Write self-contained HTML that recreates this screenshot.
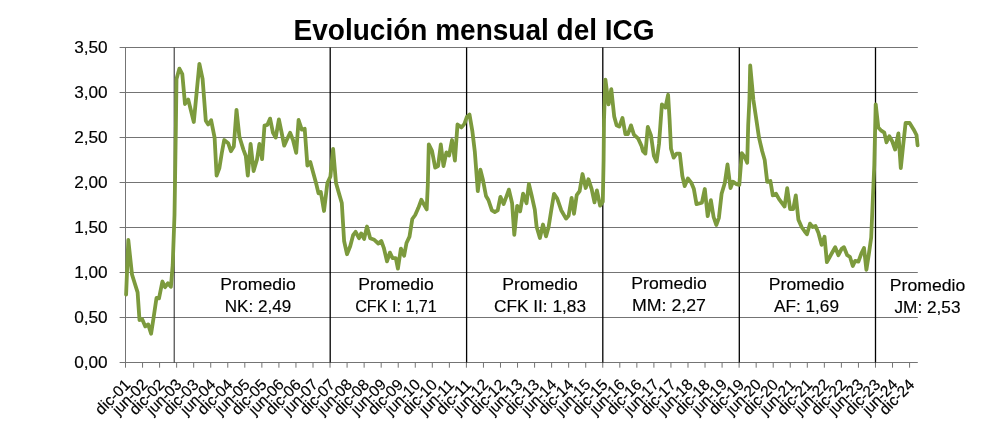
<!DOCTYPE html>
<html><head><meta charset="utf-8"><title>ICG</title>
<style>
html,body{margin:0;padding:0;background:#fff;}
body{width:1000px;height:438px;overflow:hidden;font-family:"Liberation Sans",sans-serif;}
svg{display:block;will-change:transform;opacity:0.9999;}
text{font-family:"Liberation Sans",sans-serif;fill:#000;}
</style></head><body>
<svg width="1000" height="438" viewBox="0 0 1000 438">
<rect width="1000" height="438" fill="#fff"/>

<g stroke="#747474" stroke-width="1" fill="none">
<line x1="119.6" y1="47.50" x2="917.8" y2="47.50"/>
<line x1="119.6" y1="92.50" x2="917.8" y2="92.50"/>
<line x1="119.6" y1="137.50" x2="917.8" y2="137.50"/>
<line x1="119.6" y1="182.50" x2="917.8" y2="182.50"/>
<line x1="119.6" y1="227.50" x2="917.8" y2="227.50"/>
<line x1="119.6" y1="272.50" x2="917.8" y2="272.50"/>
<line x1="119.6" y1="317.50" x2="917.8" y2="317.50"/>
<line x1="119.6" y1="362.50" x2="917.8" y2="362.50"/>
<line x1="125.50" y1="47.50" x2="125.50" y2="362.50"/>
<line x1="125.50" y1="362.50" x2="125.50" y2="367.70"/>
<line x1="142.55" y1="362.50" x2="142.55" y2="367.70"/>
<line x1="159.59" y1="362.50" x2="159.59" y2="367.70"/>
<line x1="176.63" y1="362.50" x2="176.63" y2="367.70"/>
<line x1="193.68" y1="362.50" x2="193.68" y2="367.70"/>
<line x1="210.73" y1="362.50" x2="210.73" y2="367.70"/>
<line x1="227.77" y1="362.50" x2="227.77" y2="367.70"/>
<line x1="244.81" y1="362.50" x2="244.81" y2="367.70"/>
<line x1="261.86" y1="362.50" x2="261.86" y2="367.70"/>
<line x1="278.91" y1="362.50" x2="278.91" y2="367.70"/>
<line x1="295.95" y1="362.50" x2="295.95" y2="367.70"/>
<line x1="313.00" y1="362.50" x2="313.00" y2="367.70"/>
<line x1="330.04" y1="362.50" x2="330.04" y2="367.70"/>
<line x1="347.09" y1="362.50" x2="347.09" y2="367.70"/>
<line x1="364.13" y1="362.50" x2="364.13" y2="367.70"/>
<line x1="381.18" y1="362.50" x2="381.18" y2="367.70"/>
<line x1="398.22" y1="362.50" x2="398.22" y2="367.70"/>
<line x1="415.27" y1="362.50" x2="415.27" y2="367.70"/>
<line x1="432.31" y1="362.50" x2="432.31" y2="367.70"/>
<line x1="449.36" y1="362.50" x2="449.36" y2="367.70"/>
<line x1="466.40" y1="362.50" x2="466.40" y2="367.70"/>
<line x1="483.45" y1="362.50" x2="483.45" y2="367.70"/>
<line x1="500.49" y1="362.50" x2="500.49" y2="367.70"/>
<line x1="517.54" y1="362.50" x2="517.54" y2="367.70"/>
<line x1="534.58" y1="362.50" x2="534.58" y2="367.70"/>
<line x1="551.62" y1="362.50" x2="551.62" y2="367.70"/>
<line x1="568.67" y1="362.50" x2="568.67" y2="367.70"/>
<line x1="585.72" y1="362.50" x2="585.72" y2="367.70"/>
<line x1="602.76" y1="362.50" x2="602.76" y2="367.70"/>
<line x1="619.81" y1="362.50" x2="619.81" y2="367.70"/>
<line x1="636.85" y1="362.50" x2="636.85" y2="367.70"/>
<line x1="653.90" y1="362.50" x2="653.90" y2="367.70"/>
<line x1="670.94" y1="362.50" x2="670.94" y2="367.70"/>
<line x1="687.99" y1="362.50" x2="687.99" y2="367.70"/>
<line x1="705.03" y1="362.50" x2="705.03" y2="367.70"/>
<line x1="722.08" y1="362.50" x2="722.08" y2="367.70"/>
<line x1="739.12" y1="362.50" x2="739.12" y2="367.70"/>
<line x1="756.17" y1="362.50" x2="756.17" y2="367.70"/>
<line x1="773.21" y1="362.50" x2="773.21" y2="367.70"/>
<line x1="790.26" y1="362.50" x2="790.26" y2="367.70"/>
<line x1="807.30" y1="362.50" x2="807.30" y2="367.70"/>
<line x1="824.35" y1="362.50" x2="824.35" y2="367.70"/>
<line x1="841.39" y1="362.50" x2="841.39" y2="367.70"/>
<line x1="858.44" y1="362.50" x2="858.44" y2="367.70"/>
<line x1="875.48" y1="362.50" x2="875.48" y2="367.70"/>
<line x1="892.53" y1="362.50" x2="892.53" y2="367.70"/>
<line x1="909.57" y1="362.50" x2="909.57" y2="367.70"/>
</g>
<g stroke="#000" stroke-width="1.3">
<line x1="174.2" y1="47.50" x2="174.2" y2="362.50" stroke-width="1" stroke="#222"/>
<line x1="330.2" y1="47.50" x2="330.2" y2="362.50"/>
<line x1="466.6" y1="47.50" x2="466.6" y2="362.50"/>
<line x1="602.8" y1="47.50" x2="602.8" y2="362.50"/>
<line x1="739.3" y1="47.50" x2="739.3" y2="362.50"/>
<line x1="875.5" y1="47.50" x2="875.5" y2="362.50"/>
</g>
<polyline fill="none" stroke="#7c9a3d" stroke-width="3.8" stroke-linejoin="round" stroke-linecap="round" points="126.1,294.6 128.3,240 132,274.5 137.6,292.4 139.5,320 142.2,319.3 145.3,326.4 148.2,324.4 151.1,333.8 153.5,318.2 156.5,298 159,298.4 162.4,281.5 165.1,287.2 168,283.2 170.9,286.8 172.7,265 174.5,215 175.2,170 175.9,125 176.5,79 179.4,68.6 182.3,74.2 185,104 188.2,99.5 193.8,122 199.4,63.8 202.6,79 205.8,120.7 208.2,124.5 211.1,120.2 214.6,137.6 216.6,175.6 219.4,168 221.8,153 224.2,140 228.2,143.2 230.9,151.2 233.8,146.4 236.5,109.8 239.4,136.8 243.4,149.6 245.8,156 247.8,175.6 250.6,144 253.6,171 257,159.5 259.4,144 262.1,159.2 264.5,125.6 267.4,124.8 270.1,118.6 273,132.8 275.7,137.6 278.9,119.4 281.5,132 284.2,145.6 287.2,139 290.1,132.8 293,140 296.2,152.8 298.6,120 301.8,129.6 304.7,128.8 307.4,165.5 310.3,162 313,172 316.1,183.2 318.5,193.3 320.8,192 324,211 327.4,183 330.4,176.5 333.1,148.9 336,183 339.2,194.1 341.8,203 344.1,241 347,254.2 350.2,246.2 353.1,235.2 355.6,231.8 359,238.2 361.2,233.4 364.1,239 367,226.5 370.2,238.2 374.3,239.8 378.3,243.5 381.3,241 383.8,247.8 387,261.4 389.9,252.6 392.6,258.2 395.8,258.2 397.9,268.6 400.9,248.6 404.1,255.8 406.5,243 409.5,236.6 412.3,219 415.2,215 418.4,207.8 421.3,199.8 426.7,209.4 427.8,185 428.8,144.4 432,150.8 435.2,167.6 438.1,166 440.8,144.4 443.5,166 446.4,152.4 449.1,155.6 452,140 454.9,160.6 457.5,124.5 461.5,127.4 464.4,123.9 466.8,117 469.5,114.6 472.4,131.4 474.8,151.4 477.8,191.2 480.4,169.7 482.8,179.2 486,196 488.4,200 491.9,210.4 494.8,212 497.7,210.4 500.4,196.8 503.6,204 506.3,196.8 508.9,189.6 512.1,203.2 514.3,234.8 517.2,205.8 520.1,211.4 523.1,193.6 526.5,203.2 528.9,184 531.6,195.2 534.8,209.6 536.6,226.8 539.9,238 543,224.5 546,236.4 548.6,227 551.3,210 554,193.8 557.2,198.6 561.2,210.2 566,218.6 568.6,215.8 571.6,197.8 574,213.8 576.7,195.2 579.6,191.2 582.5,174 585.7,188 588.4,179.2 591.6,188.8 594.5,202.4 596.9,190.4 600.1,205.6 602.8,201.6 603.6,160 604,120 605.4,79.6 608.6,104.4 611.3,89.2 614.2,116.4 616.6,125.2 619.3,126.6 622.5,118 625.4,134.2 627.9,134.2 631,125.4 633.9,134.6 638.2,138.6 641.4,145.6 643,151.2 645.4,153.6 647.8,127 651,135.4 653.9,156 656.6,161.6 659,144 661.9,104.4 665.4,107.6 668.1,94.8 669.6,120 671,148.8 673.7,157.6 676.6,153.6 679.8,153.6 682.3,175.7 684.7,186.1 687.9,178.5 691.4,182.9 693.8,188.7 696.5,204.2 701.9,202.6 704.8,189 707.7,216.2 710.9,200.2 713.6,217 716.3,225 718.9,217.8 721.6,193.8 724.8,183 727.5,164.5 730.5,188 732.9,181.7 736.5,184.1 739.3,184.9 741.8,153.2 744.6,156.8 747.2,162.8 748.2,125 749.4,100 750.2,65.4 753.4,100 755.8,116 759,137.6 762.2,151.2 764.7,160 767.2,181.8 770.4,181 772.8,195.4 776,193.8 779.2,199.4 784.6,206.5 787.2,188.2 790.1,209 793.2,209 795.8,195.4 798.4,219.7 801.6,227 804.4,231 807,234.2 810,223.7 812.6,227 815.5,226 818.4,232.8 821.6,244.8 824.5,236.8 826.9,262.2 829.7,257 832.5,252 835.2,247.2 838.4,255.2 841.6,248.8 844,247.2 847.2,255.2 849.9,256.8 852.8,266 855.2,260.8 858.4,261.6 861.3,253.6 864,248 866.4,269.8 868.8,254.4 871.2,237.6 872.8,200 874.3,165 875.7,104.3 878.3,127.5 881.3,130.7 884.3,132.7 886.5,142.3 889.3,136.3 892.3,141.5 895.1,149.5 898.4,133.4 900.8,168 903.2,145 905.6,123 909.6,123 913.6,129.4 916.5,135 917.6,145.4"/>
<text x="293.6" y="40.2" font-size="28.6" font-weight="bold" textLength="361" lengthAdjust="spacingAndGlyphs">Evolución mensual del ICG</text>
<text x="107.7" y="52.80" font-size="16.2" stroke="#000" stroke-width="0.15" text-anchor="end" textLength="33.5" lengthAdjust="spacingAndGlyphs">3,50</text>
<text x="107.7" y="97.80" font-size="16.2" stroke="#000" stroke-width="0.15" text-anchor="end" textLength="33.5" lengthAdjust="spacingAndGlyphs">3,00</text>
<text x="107.7" y="142.80" font-size="16.2" stroke="#000" stroke-width="0.15" text-anchor="end" textLength="33.5" lengthAdjust="spacingAndGlyphs">2,50</text>
<text x="107.7" y="187.80" font-size="16.2" stroke="#000" stroke-width="0.15" text-anchor="end" textLength="33.5" lengthAdjust="spacingAndGlyphs">2,00</text>
<text x="107.7" y="232.80" font-size="16.2" stroke="#000" stroke-width="0.15" text-anchor="end" textLength="33.5" lengthAdjust="spacingAndGlyphs">1,50</text>
<text x="107.7" y="277.80" font-size="16.2" stroke="#000" stroke-width="0.15" text-anchor="end" textLength="33.5" lengthAdjust="spacingAndGlyphs">1,00</text>
<text x="107.7" y="322.80" font-size="16.2" stroke="#000" stroke-width="0.15" text-anchor="end" textLength="33.5" lengthAdjust="spacingAndGlyphs">0,50</text>
<text x="107.7" y="367.80" font-size="16.2" stroke="#000" stroke-width="0.15" text-anchor="end" textLength="33.5" lengthAdjust="spacingAndGlyphs">0,00</text>
<text transform="translate(131.40,385.60) rotate(-45)" font-size="15.6" stroke="#000" stroke-width="0.18" text-anchor="end" textLength="42.5" lengthAdjust="spacingAndGlyphs">dic-01</text>
<text transform="translate(148.45,385.60) rotate(-45)" font-size="15.6" stroke="#000" stroke-width="0.18" text-anchor="end" textLength="42.5" lengthAdjust="spacingAndGlyphs">jun-02</text>
<text transform="translate(165.49,385.60) rotate(-45)" font-size="15.6" stroke="#000" stroke-width="0.18" text-anchor="end" textLength="42.5" lengthAdjust="spacingAndGlyphs">dic-02</text>
<text transform="translate(182.53,385.60) rotate(-45)" font-size="15.6" stroke="#000" stroke-width="0.18" text-anchor="end" textLength="42.5" lengthAdjust="spacingAndGlyphs">jun-03</text>
<text transform="translate(199.58,385.60) rotate(-45)" font-size="15.6" stroke="#000" stroke-width="0.18" text-anchor="end" textLength="42.5" lengthAdjust="spacingAndGlyphs">dic-03</text>
<text transform="translate(216.63,385.60) rotate(-45)" font-size="15.6" stroke="#000" stroke-width="0.18" text-anchor="end" textLength="42.5" lengthAdjust="spacingAndGlyphs">jun-04</text>
<text transform="translate(233.67,385.60) rotate(-45)" font-size="15.6" stroke="#000" stroke-width="0.18" text-anchor="end" textLength="42.5" lengthAdjust="spacingAndGlyphs">dic-04</text>
<text transform="translate(250.72,385.60) rotate(-45)" font-size="15.6" stroke="#000" stroke-width="0.18" text-anchor="end" textLength="42.5" lengthAdjust="spacingAndGlyphs">jun-05</text>
<text transform="translate(267.76,385.60) rotate(-45)" font-size="15.6" stroke="#000" stroke-width="0.18" text-anchor="end" textLength="42.5" lengthAdjust="spacingAndGlyphs">dic-05</text>
<text transform="translate(284.81,385.60) rotate(-45)" font-size="15.6" stroke="#000" stroke-width="0.18" text-anchor="end" textLength="42.5" lengthAdjust="spacingAndGlyphs">jun-06</text>
<text transform="translate(301.85,385.60) rotate(-45)" font-size="15.6" stroke="#000" stroke-width="0.18" text-anchor="end" textLength="42.5" lengthAdjust="spacingAndGlyphs">dic-06</text>
<text transform="translate(318.89,385.60) rotate(-45)" font-size="15.6" stroke="#000" stroke-width="0.18" text-anchor="end" textLength="42.5" lengthAdjust="spacingAndGlyphs">jun-07</text>
<text transform="translate(335.94,385.60) rotate(-45)" font-size="15.6" stroke="#000" stroke-width="0.18" text-anchor="end" textLength="42.5" lengthAdjust="spacingAndGlyphs">dic-07</text>
<text transform="translate(352.99,385.60) rotate(-45)" font-size="15.6" stroke="#000" stroke-width="0.18" text-anchor="end" textLength="42.5" lengthAdjust="spacingAndGlyphs">jun-08</text>
<text transform="translate(370.03,385.60) rotate(-45)" font-size="15.6" stroke="#000" stroke-width="0.18" text-anchor="end" textLength="42.5" lengthAdjust="spacingAndGlyphs">dic-08</text>
<text transform="translate(387.07,385.60) rotate(-45)" font-size="15.6" stroke="#000" stroke-width="0.18" text-anchor="end" textLength="42.5" lengthAdjust="spacingAndGlyphs">jun-09</text>
<text transform="translate(404.12,385.60) rotate(-45)" font-size="15.6" stroke="#000" stroke-width="0.18" text-anchor="end" textLength="42.5" lengthAdjust="spacingAndGlyphs">dic-09</text>
<text transform="translate(421.17,385.60) rotate(-45)" font-size="15.6" stroke="#000" stroke-width="0.18" text-anchor="end" textLength="42.5" lengthAdjust="spacingAndGlyphs">jun-10</text>
<text transform="translate(438.21,385.60) rotate(-45)" font-size="15.6" stroke="#000" stroke-width="0.18" text-anchor="end" textLength="42.5" lengthAdjust="spacingAndGlyphs">dic-10</text>
<text transform="translate(455.25,385.60) rotate(-45)" font-size="15.6" stroke="#000" stroke-width="0.18" text-anchor="end" textLength="42.5" lengthAdjust="spacingAndGlyphs">jun-11</text>
<text transform="translate(472.30,385.60) rotate(-45)" font-size="15.6" stroke="#000" stroke-width="0.18" text-anchor="end" textLength="42.5" lengthAdjust="spacingAndGlyphs">dic-11</text>
<text transform="translate(489.35,385.60) rotate(-45)" font-size="15.6" stroke="#000" stroke-width="0.18" text-anchor="end" textLength="42.5" lengthAdjust="spacingAndGlyphs">jun-12</text>
<text transform="translate(506.39,385.60) rotate(-45)" font-size="15.6" stroke="#000" stroke-width="0.18" text-anchor="end" textLength="42.5" lengthAdjust="spacingAndGlyphs">dic-12</text>
<text transform="translate(523.44,385.60) rotate(-45)" font-size="15.6" stroke="#000" stroke-width="0.18" text-anchor="end" textLength="42.5" lengthAdjust="spacingAndGlyphs">jun-13</text>
<text transform="translate(540.48,385.60) rotate(-45)" font-size="15.6" stroke="#000" stroke-width="0.18" text-anchor="end" textLength="42.5" lengthAdjust="spacingAndGlyphs">dic-13</text>
<text transform="translate(557.52,385.60) rotate(-45)" font-size="15.6" stroke="#000" stroke-width="0.18" text-anchor="end" textLength="42.5" lengthAdjust="spacingAndGlyphs">jun-14</text>
<text transform="translate(574.57,385.60) rotate(-45)" font-size="15.6" stroke="#000" stroke-width="0.18" text-anchor="end" textLength="42.5" lengthAdjust="spacingAndGlyphs">dic-14</text>
<text transform="translate(591.62,385.60) rotate(-45)" font-size="15.6" stroke="#000" stroke-width="0.18" text-anchor="end" textLength="42.5" lengthAdjust="spacingAndGlyphs">jun-15</text>
<text transform="translate(608.66,385.60) rotate(-45)" font-size="15.6" stroke="#000" stroke-width="0.18" text-anchor="end" textLength="42.5" lengthAdjust="spacingAndGlyphs">dic-15</text>
<text transform="translate(625.71,385.60) rotate(-45)" font-size="15.6" stroke="#000" stroke-width="0.18" text-anchor="end" textLength="42.5" lengthAdjust="spacingAndGlyphs">jun-16</text>
<text transform="translate(642.75,385.60) rotate(-45)" font-size="15.6" stroke="#000" stroke-width="0.18" text-anchor="end" textLength="42.5" lengthAdjust="spacingAndGlyphs">dic-16</text>
<text transform="translate(659.80,385.60) rotate(-45)" font-size="15.6" stroke="#000" stroke-width="0.18" text-anchor="end" textLength="42.5" lengthAdjust="spacingAndGlyphs">jun-17</text>
<text transform="translate(676.84,385.60) rotate(-45)" font-size="15.6" stroke="#000" stroke-width="0.18" text-anchor="end" textLength="42.5" lengthAdjust="spacingAndGlyphs">dic-17</text>
<text transform="translate(693.88,385.60) rotate(-45)" font-size="15.6" stroke="#000" stroke-width="0.18" text-anchor="end" textLength="42.5" lengthAdjust="spacingAndGlyphs">jun-18</text>
<text transform="translate(710.93,385.60) rotate(-45)" font-size="15.6" stroke="#000" stroke-width="0.18" text-anchor="end" textLength="42.5" lengthAdjust="spacingAndGlyphs">dic-18</text>
<text transform="translate(727.98,385.60) rotate(-45)" font-size="15.6" stroke="#000" stroke-width="0.18" text-anchor="end" textLength="42.5" lengthAdjust="spacingAndGlyphs">jun-19</text>
<text transform="translate(745.02,385.60) rotate(-45)" font-size="15.6" stroke="#000" stroke-width="0.18" text-anchor="end" textLength="42.5" lengthAdjust="spacingAndGlyphs">dic-19</text>
<text transform="translate(762.07,385.60) rotate(-45)" font-size="15.6" stroke="#000" stroke-width="0.18" text-anchor="end" textLength="42.5" lengthAdjust="spacingAndGlyphs">jun-20</text>
<text transform="translate(779.11,385.60) rotate(-45)" font-size="15.6" stroke="#000" stroke-width="0.18" text-anchor="end" textLength="42.5" lengthAdjust="spacingAndGlyphs">dic-20</text>
<text transform="translate(796.16,385.60) rotate(-45)" font-size="15.6" stroke="#000" stroke-width="0.18" text-anchor="end" textLength="42.5" lengthAdjust="spacingAndGlyphs">jun-21</text>
<text transform="translate(813.20,385.60) rotate(-45)" font-size="15.6" stroke="#000" stroke-width="0.18" text-anchor="end" textLength="42.5" lengthAdjust="spacingAndGlyphs">dic-21</text>
<text transform="translate(830.25,385.60) rotate(-45)" font-size="15.6" stroke="#000" stroke-width="0.18" text-anchor="end" textLength="42.5" lengthAdjust="spacingAndGlyphs">jun-22</text>
<text transform="translate(847.29,385.60) rotate(-45)" font-size="15.6" stroke="#000" stroke-width="0.18" text-anchor="end" textLength="42.5" lengthAdjust="spacingAndGlyphs">dic-22</text>
<text transform="translate(864.34,385.60) rotate(-45)" font-size="15.6" stroke="#000" stroke-width="0.18" text-anchor="end" textLength="42.5" lengthAdjust="spacingAndGlyphs">jun-23</text>
<text transform="translate(881.38,385.60) rotate(-45)" font-size="15.6" stroke="#000" stroke-width="0.18" text-anchor="end" textLength="42.5" lengthAdjust="spacingAndGlyphs">dic-23</text>
<text transform="translate(898.43,385.60) rotate(-45)" font-size="15.6" stroke="#000" stroke-width="0.18" text-anchor="end" textLength="42.5" lengthAdjust="spacingAndGlyphs">jun-24</text>
<text transform="translate(915.47,385.60) rotate(-45)" font-size="15.6" stroke="#000" stroke-width="0.18" text-anchor="end" textLength="42.5" lengthAdjust="spacingAndGlyphs">dic-24</text>
<text x="258.0" y="289.9" font-size="17" stroke="#000" stroke-width="0.15" text-anchor="middle" textLength="75.5" lengthAdjust="spacingAndGlyphs">Promedio</text>
<text x="258.0" y="311.9" font-size="17" stroke="#000" stroke-width="0.15" text-anchor="middle" textLength="66.4" lengthAdjust="spacingAndGlyphs">NK: 2,49</text>
<text x="396.0" y="289.9" font-size="17" stroke="#000" stroke-width="0.15" text-anchor="middle" textLength="75.5" lengthAdjust="spacingAndGlyphs">Promedio</text>
<text x="396.0" y="311.9" font-size="17" stroke="#000" stroke-width="0.15" text-anchor="middle" textLength="81.7" lengthAdjust="spacingAndGlyphs">CFK I: 1,71</text>
<text x="540.0" y="289.7" font-size="17" stroke="#000" stroke-width="0.15" text-anchor="middle" textLength="75.5" lengthAdjust="spacingAndGlyphs">Promedio</text>
<text x="540.0" y="311.7" font-size="17" stroke="#000" stroke-width="0.15" text-anchor="middle" textLength="92.0" lengthAdjust="spacingAndGlyphs">CFK II: 1,83</text>
<text x="669.0" y="288.5" font-size="17" stroke="#000" stroke-width="0.15" text-anchor="middle" textLength="75.5" lengthAdjust="spacingAndGlyphs">Promedio</text>
<text x="669.0" y="310.5" font-size="17" stroke="#000" stroke-width="0.15" text-anchor="middle" textLength="74.0" lengthAdjust="spacingAndGlyphs">MM: 2,27</text>
<text x="806.5" y="290.0" font-size="17" stroke="#000" stroke-width="0.15" text-anchor="middle" textLength="75.5" lengthAdjust="spacingAndGlyphs">Promedio</text>
<text x="806.5" y="312.0" font-size="17" stroke="#000" stroke-width="0.15" text-anchor="middle" textLength="65.0" lengthAdjust="spacingAndGlyphs">AF: 1,69</text>
<text x="927.5" y="291.0" font-size="17" stroke="#000" stroke-width="0.15" text-anchor="middle" textLength="75.5" lengthAdjust="spacingAndGlyphs">Promedio</text>
<text x="927.5" y="313.0" font-size="17" stroke="#000" stroke-width="0.15" text-anchor="middle" textLength="66.0" lengthAdjust="spacingAndGlyphs">JM: 2,53</text>
</svg></body></html>
